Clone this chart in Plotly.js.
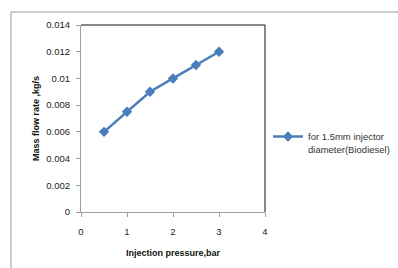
<!DOCTYPE html>
<html><head><meta charset="utf-8">
<script src="https://cdn.plot.ly/plotly-3.0.1.min.js"></script>
<style>html,body{margin:0;padding:0;background:#fff;}#chart{width:398px;height:268px;}</style>
</head><body><div id="chart"></div>
<script>
const pressure = [0.5, 1, 1.5, 2, 2.5, 3];
const massFlow = [0.006, 0.0075, 0.009, 0.01, 0.011, 0.012];
const seriesName = 'for 1.5mm injector<br>diameter(Biodiesel)';
const xTitle = 'Injection pressure,bar';
const yTitle = 'Mass flow rate ,kg/s';

const fam = 'Liberation Sans, Arial, sans-serif';
const W = 398, H = 268, L = 81, R = 5, T = 25, B = 56;
const pw = W - L - R, ph = H - T - B;
const plotRight = 265;
const dom = (plotRight - L) / pw;

const trace = {
  x: pressure, y: massFlow, name: seriesName, type: 'scatter', mode: 'lines+markers',
  line: {color: '#4a7ebb', width: 2.5},
  marker: {symbol: 'diamond', size: 8, color: '#4a7ebb'}
};
const layout = {
  width: W, height: H,
  margin: {l: L, r: R, t: T, b: B, autoexpand: false},
  paper_bgcolor: '#fff', plot_bgcolor: '#fff',
  font: {family: fam, size: 9, color: '#222'},
  showlegend: true,
  legend: {x: (268 - L) / pw, y: 0.37, xanchor: 'left', yanchor: 'middle', valign: 'top',
    font: {family: fam, size: 9.5, color: '#333'}, bgcolor: 'rgba(0,0,0,0)', itemwidth: 30},
  xaxis: {
    domain: [0, dom],
    range: [0, 4], dtick: 1, tick0: 0, showgrid: false, zeroline: false,
    showline: true, linecolor: '#a0a0a0', linewidth: 1,
    ticks: 'outside', ticklen: 4, tickcolor: '#a0a0a0', ticklabelstandoff: 7,
    tickfont: {family: fam, size: 9.5, color: '#222'},
    title: {text: '<b>' + xTitle + '</b>', font: {family: fam, size: 9, color: '#111'}, standoff: 13},
    fixedrange: true
  },
  yaxis: {
    range: [0, 0.014], dtick: 0.002, tick0: 0, showgrid: false, zeroline: false,
    showline: true, linecolor: '#a0a0a0', linewidth: 1,
    ticks: 'outside', ticklen: 4, tickcolor: '#a0a0a0', ticklabelstandoff: 4,
    tickfont: {family: fam, size: 9.5, color: '#222'},
    title: {text: '<b>' + yTitle + '</b>', font: {family: fam, size: 9, color: '#111'}, standoff: 5},
    fixedrange: true
  },
  shapes: [
    {type: 'line', xref: 'x domain', yref: 'y domain', x0: 0, x1: 1, y0: 1, y1: 1, line: {color: '#111', width: 1}},
    {type: 'line', xref: 'x domain', yref: 'y domain', x0: 1, x1: 1, y0: 0, y1: 1, line: {color: '#111', width: 1}},
    {type: 'rect', xref: 'paper', yref: 'paper', x0: (11 - L) / pw, x1: (420 - L) / pw,
      y0: -(290 - (H - B)) / ph, y1: ((H - B) - 12) / ph, line: {color: '#999', width: 1},
      fillcolor: 'rgba(0,0,0,0)', layer: 'below'}
  ]
};
Plotly.newPlot('chart', [trace], layout, {displayModeBar: false, staticPlot: true});
</script></body></html>
